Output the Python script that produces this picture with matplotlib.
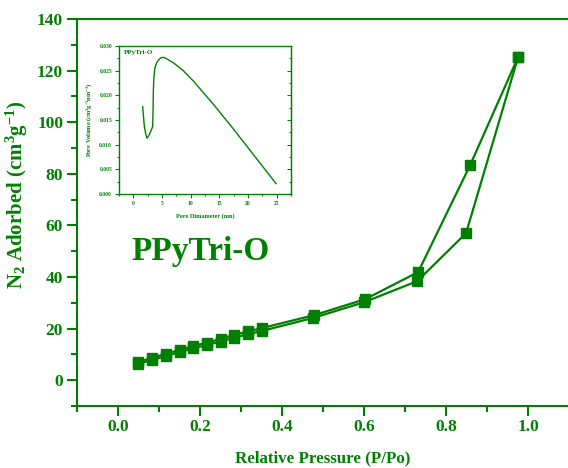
import matplotlib
matplotlib.use("Agg")
import matplotlib.pyplot as plt
from matplotlib.ticker import MultipleLocator

plt.rcParams['font.family'] = ['Liberation Serif', 'DejaVu Serif']
plt.rcParams['mathtext.fontset'] = 'custom'
plt.rcParams['mathtext.rm'] = 'Liberation Serif:bold'
plt.rcParams['mathtext.it'] = 'Liberation Serif:bold'
plt.rcParams['mathtext.bf'] = 'Liberation Serif:bold'

GREEN = '#008000'

# Isotherm data
p_ads = [0.049, 0.083, 0.117, 0.151, 0.183, 0.217, 0.251, 0.283, 0.317, 0.351, 0.475, 0.600, 0.730, 0.849, 0.976]
v_ads = [6.3, 7.9, 9.3, 11.0, 12.3, 13.7, 15.0, 16.5, 17.8, 19.1, 24.1, 30.2, 38.4, 57.0, 125.3]
p_des = [0.976, 0.859, 0.732, 0.603, 0.478, 0.351, 0.317, 0.283, 0.251, 0.217, 0.183, 0.151, 0.117, 0.083, 0.049]
v_des = [125.3, 83.4, 41.9, 31.4, 25.2, 20.2, 18.9, 17.6, 16.0, 14.6, 13.2, 11.8, 10.2, 8.7, 7.0]

# Pore size distribution (inset)
d_pore = [1.63, 1.92, 2.2, 2.38, 2.67, 3.02, 3.37, 3.43, 3.49, 3.58, 3.75, 4.07, 4.5, 4.83, 5.2, 5.52, 6.98, 8.72, 10.47, 13.95, 17.44, 20.93, 24.9]
v_pore = [0.0177, 0.01365, 0.0120, 0.0113, 0.01177, 0.01265, 0.01365, 0.0163, 0.0210, 0.0235, 0.0255, 0.0266, 0.0273, 0.0276, 0.0277, 0.0276, 0.0266, 0.0250, 0.0229, 0.0182, 0.0132, 0.0080, 0.0021]

W, H = 568, 468
fig = plt.figure(figsize=(W/100, H/100), dpi=100)
ax = fig.add_axes([77/W, 1-406/H, (569-77)/W, (406-19)/H])

ax.plot(p_ads, v_ads, color=GREEN, lw=1.6, marker='s', ms=7, mec=GREEN, mfc=GREEN)
ax.plot(p_des, v_des, color=GREEN, lw=1.6, marker='s', ms=7, mec=GREEN, mfc=GREEN)

ax.set_xlim(-0.1, 1.1)
ax.set_ylim(-10, 140)
ax.xaxis.set_major_locator(MultipleLocator(0.2))
ax.xaxis.set_minor_locator(MultipleLocator(0.1))
ax.yaxis.set_major_locator(MultipleLocator(20))
ax.yaxis.set_minor_locator(MultipleLocator(10))
ax.set_xticks([0.0, 0.2, 0.4, 0.6, 0.8, 1.0])
ax.set_xticklabels(['0.0', '0.2', '0.4', '0.6', '0.8', '1.0'])
for s in ['left', 'bottom', 'top']:
    ax.spines[s].set_color(GREEN)
    ax.spines[s].set_linewidth(1.5)
ax.spines['right'].set_visible(False)
ax.tick_params(which='both', direction='out', color=GREEN, width=1.5, top=False, right=False)
ax.tick_params(which='major', length=7, labelsize=12.5, labelcolor=GREEN)
ax.tick_params(axis='y', which='major', pad=3)
ax.tick_params(axis='x', which='major', pad=2.5)
ax.tick_params(which='minor', length=4)
for lab in ax.get_xticklabels() + ax.get_yticklabels():
    lab.set_fontweight('bold')

ax.set_xlabel('Relative Pressure (P/Po)', fontsize=12.2, fontweight='bold', color=GREEN, labelpad=11)
ax.set_ylabel(r'N$_2$ Adorbed (cm$^3$g$^{-1}$)', fontsize=15, fontweight='bold', color=GREEN)
ax.yaxis.set_label_coords(-0.095, 0.545)

ax.text(0.0339, 50, 'PPyTri-O', fontsize=24, fontweight='bold', color=GREEN, ha='left', va='center')

# Inset
ins = fig.add_axes([119/W, 1-194/H, (291-119)/W, (194-46)/H])
ins.plot(d_pore, v_pore, color=GREEN, lw=1.0)
ins.set_xlim(-2.5, 27.5)
ins.set_ylim(0, 0.030)
ins.xaxis.set_major_locator(MultipleLocator(5))
ins.xaxis.set_minor_locator(MultipleLocator(2.5))
ins.yaxis.set_major_locator(MultipleLocator(0.005))
ins.yaxis.set_minor_locator(MultipleLocator(0.0025))
ins.yaxis.set_major_formatter(plt.FuncFormatter(lambda v, p: f'{v:.3f}'))
for s in ins.spines.values():
    s.set_color(GREEN)
    s.set_linewidth(1.0)
ins.tick_params(which='both', direction='out', color=GREEN, width=0.8)
ins.tick_params(which='major', length=3, labelsize=4, labelcolor=GREEN, pad=2)
ins.tick_params(which='minor', length=1.5)
for lab in ins.get_xticklabels() + ins.get_yticklabels():
    lab.set_fontweight('bold')
sec = ins.secondary_yaxis('right')
sec.yaxis.set_major_locator(MultipleLocator(0.005))
sec.yaxis.set_minor_locator(MultipleLocator(0.0025))
sec.tick_params(which='both', direction='in', color=GREEN, width=0.8, labelright=False)
sec.tick_params(which='major', length=3)
sec.tick_params(which='minor', length=1.5)
sec.spines['right'].set_color(GREEN)
ins.set_xlabel('Pore Dimameter (nm)', fontsize=4.5, fontweight='bold', color=GREEN, labelpad=5)
ins.set_ylabel(r'Pore Volume (cm$^3$g$^{-1}$nm$^{-1}$)', fontsize=4.5, fontweight='bold', color=GREEN, labelpad=4)
ins.text(0.03, 0.97, 'PPyTri-O', transform=ins.transAxes, fontsize=5, fontweight='bold', color=GREEN, ha='left', va='top')

fig.savefig('out.png', dpi=100)
